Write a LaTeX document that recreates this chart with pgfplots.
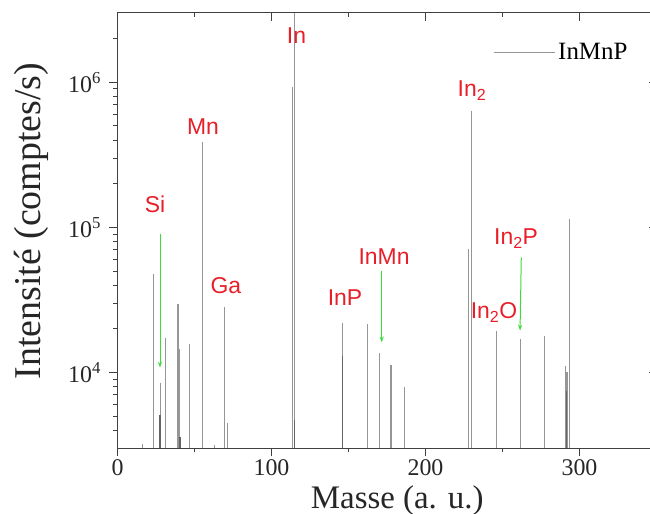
\documentclass[border=0pt]{standalone}
\usepackage{fontspec}
\setmainfont{Liberation Serif}
\newfontfamily\lsans{Liberation Sans}
\usepackage{pgfplots}
\pgfplotsset{compat=1.18}
\usetikzlibrary{arrows.meta}
\usepackage{pgfplotstable}
\definecolor{lbl}{RGB}{232,30,40}
\definecolor{arr}{RGB}{60,220,60}
\definecolor{spec}{RGB}{150,150,150}
\definecolor{specdark}{RGB}{100,100,100}

\pgfplotstableread{
x y
16 3200
23.5 48000
28.2 8500
31 17200
39.3 29600
40 14500
47 15800
55.3 388000
62.7 3150
69.4 28400
71.3 4490
113.7 933000
114.8 5000000
146.2 21900
162.2 21400
170 13700
177.6 11300
186.3 7890
228 71300
229.9 637000
246.2 19400
261.4 17000
277.4 17900
291.2 11000
291.9 10000
293.6 115000
}\graylines

\pgfplotstableread{
x y
27.6 5100
40.6 3570
114.8 4700
146.0 13000
291.5 7480
}\darklines

\tikzset{lab/.style={font=\lsans\fontsize{23}{26}\selectfont, text=lbl, inner sep=0pt, anchor=center},
         garr/.style={arr, line width=1bp, -{Stealth[length=6bp,width=4bp]}}}

\begin{document}
\begin{tikzpicture}
\begin{axis}[name=main,
  scale only axis, width=539bp, height=435.3bp,
  xmin=0, xmax=350, ymode=log, ymin=3000, ymax=3e6,
  axis line style={black!75, line width=1bp},
  tick style={black!75, line width=0.9bp},
  xtick={0,100,200,300}, minor xtick={50,150,250,350},
  xticklabels={0,100,200,300},
  ytick={1e4,1e5,1e6},
  minor ytick={4000,5000,6000,7000,8000,9000,20000,30000,40000,50000,60000,70000,80000,90000,200000,300000,400000,500000,600000,700000,800000,900000,2000000},
  yticklabels={10\textsuperscript{4},10\textsuperscript{5},10\textsuperscript{6}},
  tick align=outside, xtick pos=left, ytick pos=left,
  major tick length=8bp, minor tick length=4bp,
  ticklabel style={font=\fontsize{24}{28}\selectfont, text=black!85},
  yticklabel style={xshift=-5bp},
  xlabel={Masse (a. u.)}, ylabel={Intensité (comptes/s)},
  label style={text=black!85},
  x label style={font=\fontsize{33}{38}\selectfont, at={(axis description cs:0.519,-0.119)}, anchor=center},
  y label style={font=\fontsize{38}{42}\selectfont, at={(axis description cs:-0.159,0.522)}, anchor=center},
  legend style={draw=none, fill=none, font=\fontsize{25}{28}\selectfont, at={(axis description cs:0.952,0.91)}, anchor=east, inner sep=0pt, nodes={inner sep=3bp}},
  legend image code/.code={\draw[#1, line width=1bp] (0bp,0bp) -- (61bp,0bp);},
]
\addplot[ycomb, spec, line width=1.1bp, mark=none] table[x=x,y=y]{\graylines};
\addlegendentry{InMnP}
\addplot[ycomb, specdark, line width=1.1bp, mark=none, forget plot] table[x=x,y=y]{\darklines};

\node[lab] at (axis cs:24.4,145000) {Si};
\node[lab] at (axis cs:55.5,498000) {Mn};
\node[lab] at (axis cs:70.4,39600) {Ga};
\node[lab] at (axis cs:116.2,2090000) {In};
\node[lab] at (axis cs:147.7,32700) {InP};
\node[lab] at (axis cs:173.1,62500) {InMn};
\node[lab] at (axis cs:230.2,874000) {In\textsubscript{2}};
\node[lab] at (axis cs:258.8,84000) {In\textsubscript{2}P};
\node[lab] at (axis cs:244.5,26000) {In\textsubscript{2}O};

\draw[garr] (axis cs:27.6,90400) -- (axis cs:27.6,10800);
\draw[garr] (axis cs:171.6,50100) -- (axis cs:171.6,16100);
\draw[garr] (axis cs:262.2,61800) -- (axis cs:261.4,19400);
\end{axis}
\begin{axis}[at={(main.south west)}, anchor=south west,
  scale only axis, width=539bp, height=435.3bp,
  xmin=0, xmax=350, ymode=log, ymin=3000, ymax=3e6,
  axis line style={black!75, line width=1bp},
  tick style={black!75, line width=0.9bp},
  xtick={0,100,200,300}, minor xtick={50,150,250,350},
  ytick={1e4,1e5,1e6},
  minor ytick={4000,5000,6000,7000,8000,9000,20000,30000,40000,50000,60000,70000,80000,90000,200000,300000,400000,500000,600000,700000,800000,900000,2000000},
  xticklabels={}, yticklabels={},
  tick align=inside, xtick pos=right, ytick pos=right,
  major tick length=8bp, minor tick length=4bp,
]
\end{axis}
\pgfresetboundingbox
\path[use as bounding box] ([shift={(-117.5bp,-65.7bp)}]main.south west) rectangle ++(650bp,514bp);
\end{tikzpicture}
\end{document}
